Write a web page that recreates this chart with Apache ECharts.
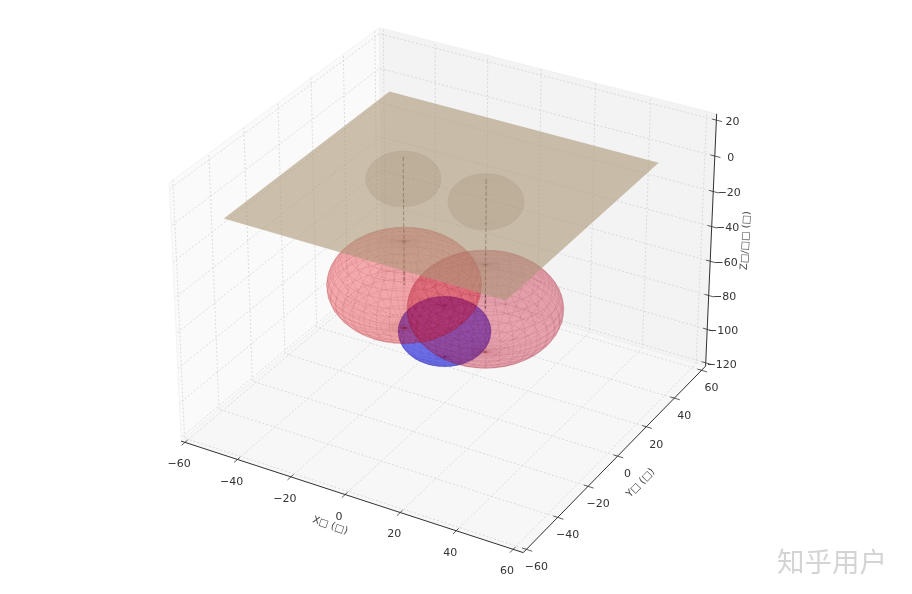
<!DOCTYPE html>
<html><head><meta charset="utf-8">
<style>html,body{margin:0;padding:0;background:#fff}#c{width:912px;height:594px}</style>
<script src="https://cdn.jsdelivr.net/npm/echarts@6/dist/echarts.min.js"></script>
</head><body><div id="c"></div>
<script>
// ---- data ----
const xTicks=[-60,-40,-20,0,20,40,60];
const yTicks=[-60,-40,-20,0,20,40,60];
const zTicks=[-120,-100,-80,-60,-40,-20,0,20];
const xLim=[-61.5,63.5], yLim=[-62,63], zLim=[-122,23.5];
const xName='X\u25A1 (\u25A1)', yName='Y\u25A1 (\u25A1)', zName='Z\u25A1/\u25A1\u25A1 (\u25A1)';
const watermark='知乎用户';
const planeHalf=50, planeZ=0;
const redCenters=[[-15,0,-60],[15,0,-60]], redRadius=25;
const smallCenters=[[-15,0,0],[15,0,0]], smallRadius=12;
const blueCenter=[0,0,-80], blueRadius=15;
const wireTopZ=12, wireBottomZ=-60;

// ---- mplot3d camera (elev 30, azim -60, box 4:4:3) ----
const box=[1.143,1.143,0.857], dist=10;
const el=30*Math.PI/180, az=-60*Math.PI/180;
const n=[Math.cos(az)*Math.cos(el),Math.sin(az)*Math.cos(el),Math.sin(el)];
const U=[-n[1]/Math.hypot(n[0],n[1]),n[0]/Math.hypot(n[0],n[1]),0];
const Vv=[n[1]*U[2]-n[2]*U[1],n[2]*U[0]-n[0]*U[2],n[0]*U[1]-n[1]*U[0]];
const Eye=[box[0]/2+dist*n[0],box[1]/2+dist*n[1],box[2]/2+dist*n[2]];
const dot=(a,b)=>a[0]*b[0]+a[1]*b[1]+a[2]*b[2];
function view(p){
  const d=[(p[0]-xLim[0])/(xLim[1]-xLim[0])*box[0]-Eye[0],
           (p[1]-yLim[0])/(yLim[1]-yLim[0])*box[1]-Eye[1],
           (p[2]-zLim[0])/(zLim[1]-zLim[0])*box[2]-Eye[2]];
  return [dot(d,U),dot(d,Vv),dot(d,n)];
}
function project(p){const v=view(p);return [v[0]/-v[2],v[1]/-v[2]];}

// ---- geometry builders ----
function layer(items){
  return {type:'custom',coordinateSystem:'cartesian2d',silent:true,animation:false,clip:false,progressive:0,
    data:items.map((_,i)=>[i]),
    renderItem(params,api){
      const it=items[params.dataIndex];
      if(it.text!==undefined){
        const c=api.coord(project(it.at));
        return {type:'text',x:c[0]+(it.dx||0),y:c[1]+(it.dy||0),rotation:it.rot||0,
          style:{text:it.text,fontSize:it.size,fontFamily:it.font||'DejaVu Sans',fill:it.color||'#333',align:'center',verticalAlign:'middle'}};
      }
      const pts=it.pts.map(p=>api.coord(project(p)));
      const style={fill:it.fill||'none',stroke:it.stroke||'none',lineWidth:it.lw||0};
      if(it.dash) style.lineDash=it.dash;
      return {type:it.fill?'polygon':'polyline',shape:{points:pts},style};
    }};
}
function line(a,b,stroke,lw,dash){return {pts:[a,b],stroke,lw,dash};}
function sphere(c,R,fill,stroke,nLon,nLat){
  const P=(i,j)=>{const th=i/nLon*2*Math.PI,ph=j/nLat*Math.PI;
    return [c[0]+R*Math.cos(th)*Math.sin(ph),c[1]+R*Math.sin(th)*Math.sin(ph),c[2]+R*Math.cos(ph)];};
  const out=[];
  for(let i=0;i<nLon;i++)for(let j=0;j<nLat;j++){
    const pts=[P(i,j),P(i+1,j),P(i+1,j+1),P(i,j+1)];
    const depth=pts.reduce((s,p)=>s+view(p)[2],0);
    out.push({pts,fill,stroke,lw:0.3,depth});
  }
  return out.sort((a,b)=>a.depth-b.depth);
}

// ---- panes and grid ----
const [x0,x1]=xLim,[y0,y1]=yLim,[z0,z1]=zLim;
const paneEdge='#ececec';
const panes=[
  {pts:[[x0,y0,z0],[x0,y1,z0],[x0,y1,z1],[x0,y0,z1]],fill:'#fafafa',stroke:paneEdge,lw:0.6},
  {pts:[[x0,y1,z0],[x1,y1,z0],[x1,y1,z1],[x0,y1,z1]],fill:'#f3f3f3',stroke:paneEdge,lw:0.6},
  {pts:[[x0,y0,z0],[x1,y0,z0],[x1,y1,z0],[x0,y1,z0]],fill:'#f7f7f7',stroke:paneEdge,lw:0.6}
];
const gridC='#c2c2c2',gridD=[2,2],gridW=0.55;
const grid=[];
xTicks.forEach(t=>{grid.push({pts:[[t,y0,z0],[t,y1,z0],[t,y1,z1]],stroke:gridC,lw:gridW,dash:gridD});});
yTicks.forEach(t=>{grid.push({pts:[[x1,t,z0],[x0,t,z0],[x0,t,z1]],stroke:gridC,lw:gridW,dash:gridD});});
zTicks.forEach(t=>{grid.push({pts:[[x1,y1,t],[x0,y1,t],[x0,y0,t]],stroke:gridC,lw:gridW,dash:gridD});});

// ---- surfaces ----
const redFills=['rgba(235,25,35,0.2)','rgba(205,25,55,0.21)'];
const blue=sphere(blueCenter,blueRadius,'rgba(20,20,225,0.36)','rgba(10,10,90,0.14)',36,20);
const reds=redCenters.flatMap((c,i)=>sphere(c,redRadius,redFills[i],'rgba(110,20,30,0.16)',36,20));
const smalls=smallCenters.flatMap(c=>sphere(c,smallRadius,'rgba(90,58,20,0.085)','rgba(80,55,25,0.03)',36,20));
const wires=smallCenters.map(c=>line([c[0],c[1],wireTopZ],[c[0],c[1],wireBottomZ],'rgba(70,45,40,0.65)',1,[4,2]));
const plane=[{pts:[[-planeHalf,-planeHalf,planeZ],[planeHalf,-planeHalf,planeZ],[planeHalf,planeHalf,planeZ],[-planeHalf,planeHalf,planeZ]],fill:'rgba(172,151,120,0.6)'}];

// ---- axes ----
const axC='#333',tickOut=2,tickIn=1.5;
const axes=[line([x0,y0,z0],[x1,y0,z0],axC,1),line([x1,y0,z0],[x1,y1,z0],axC,1),line([x1,y1,z0],[x1,y1,z1],axC,1)];
const fmt=v=>String(v).replace('-','\u2212');
const texts=[];
const fs=11;
xTicks.forEach(t=>{axes.push(line([t,y0-tickOut,z0],[t,y0+tickIn,z0],axC,0.8));
  texts.push({text:fmt(t),at:[t,y0+1.2,z0],dx:-8,dy:24,size:fs});});
yTicks.forEach(t=>{axes.push(line([x1-tickIn,t,z0],[x1+tickOut,t,z0],axC,0.8));
  texts.push({text:fmt(t),at:[x1,t,z0],dx:10,dy:18,size:fs});});
zTicks.forEach(t=>{axes.push(line([x1-tickIn,y1,t],[x1+tickOut,y1,t],axC,0.8));
  texts.push({text:fmt(t),at:[x1,y1,t],dx:16,dy:2,size:fs});});
texts.push({text:xName,at:[0,y0,z0],dx:-15,dy:31,size:10,rot:-0.33,color:'#444'});
texts.push({text:yName,at:[x1,0,z0],dx:23,dy:27,size:10,rot:0.8,color:'#444'});
texts.push({text:zName,at:[x1,y1,-40],dx:34,dy:14,size:10,rot:Math.PI/2-0.05,color:'#444'});
const mark=[{text:watermark,at:[0,0,0],size:27.5,font:'Noto Sans CJK SC',color:'#d4d4d4',dx:0,dy:0}];

// ---- chart ----
const chart=echarts.init(document.getElementById('c'),null,{renderer:'canvas'});
const sx=3430,sy=3440,ox=448,oy=278,W=912,H=594;
const origin=project([0,0,0]);
chart.setOption({
  backgroundColor:'#fff',animation:false,
  grid:{left:0,right:0,top:0,bottom:0},
  xAxis:{type:'value',show:false,min:(0-ox)/sx,max:(W-ox)/sx},
  yAxis:{type:'value',show:false,min:(oy-H)/sy,max:oy/sy},
  series:[layer(panes),layer(grid),layer(blue),layer(reds),layer(smalls),layer(wires),layer(plane),layer(axes),layer(texts),
    layer(mark.map(m=>({...m,dx:832-(ox+origin[0]*sx),dy:562-(oy-origin[1]*sy)})))]
});
</script></body></html>
